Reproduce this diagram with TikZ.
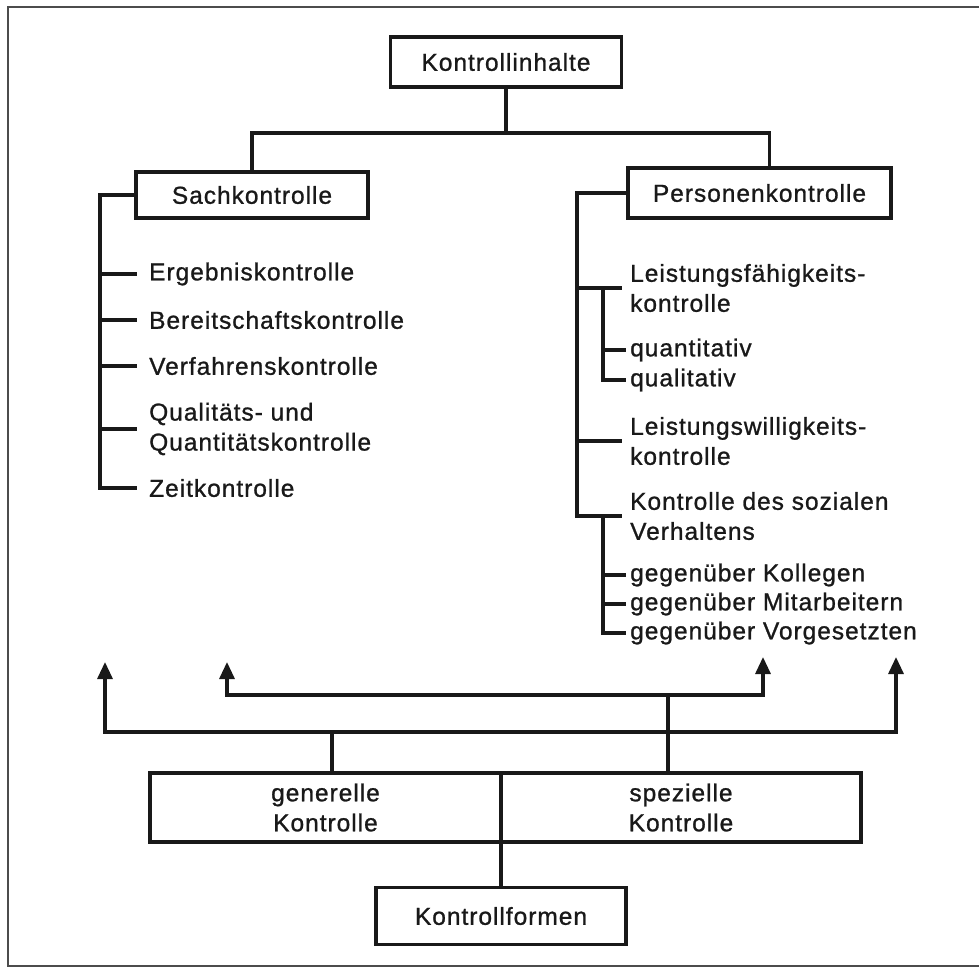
\documentclass[tikz,border=0pt]{standalone}
\usepackage{fontspec}
\setmainfont{Liberation Sans}[LetterSpace=4,FakeBold=1]
\usetikzlibrary{arrows.meta,positioning}

\tikzset{
  kasten/.style={draw, line width=3.4pt, inner sep=0pt, align=center},
  eintrag/.style={anchor=west, inner sep=0pt, align=left},
  linie/.style={line width=3.2pt},
  pfeil/.style={linie, {Triangle[length=17pt,width=15pt]}-{Triangle[length=17pt,width=15pt]}},
}

\begin{document}
\begin{tikzpicture}[x=1pt,y=-1pt,font=\fontsize{24.5}{30}\selectfont, black!90]
\useasboundingbox (0,0) rectangle (979,975);
% Rahmen
\draw[line width=2.4pt, black!70] (979,7) -- (8,7) -- (8,966) -- (979,966);

% Kontrollinhalte
\node[kasten, minimum width=231pt, minimum height=50pt] (inhalte) at (506,62) {Kontrollinhalte};
\node[kasten, minimum width=232pt, minimum height=46pt] (sach) at (252,195) {Sachkontrolle};
\node[kasten, minimum width=263pt, minimum height=50pt] (person) at (759.5,193) {Personenkontrolle};
\coordinate (knoten) at (506,133);
\draw[linie] (inhalte) -- (knoten);
\draw[linie] (sach.north) |- (knoten) -| ([xshift=10pt]person.north);

% Sachkontrolle
\node[eintrag] (ergebnis) at (149,274) {Ergebniskontrolle};
\node[eintrag] (bereitschaft) at (149,320) {Bereitschaftskontrolle};
\node[eintrag] (verfahren) at (149,366) {Verfahrenskontrolle};
\node[eintrag] (qualitaet) at (149,429) {Qualitäts- und\\Quantitätskontrolle};
\node[eintrag] (zeit) at (149,488) {Zeitkontrolle};
\coordinate (sachachse) at (100,195);
\draw[linie] (sach.west) -- (sachachse) |- ([xshift=-12pt]zeit.west);
\foreach \n in {ergebnis,bereitschaft,verfahren,qualitaet}
  \draw[linie] (sachachse |- \n.west) -- ([xshift=-12pt]\n.west);

% Personenkontrolle
\node[eintrag] (faehig) at (630,288) {Leistungsfähigkeits-\\kontrolle};
\node[eintrag] (quanti) at (630,350) {quantitativ};
\node[eintrag] (quali) at (630,380) {qualitativ};
\node[eintrag] (willig) at (630,441) {Leistungswilligkeits-\\kontrolle};
\node[eintrag] (sozial) at (630,516) {Kontrolle des sozialen\\Verhaltens};
\node[eintrag] (kollegen) at (630,575) {gegenüber Kollegen};
\node[eintrag] (mitarbeiter) at (630,604) {gegenüber Mitarbeitern};
\node[eintrag] (vorgesetzte) at (630,633) {gegenüber Vorgesetzten};
\coordinate (personachse) at (577,193);
\draw[linie] (person.west) -- (personachse) |- ([xshift=-8pt]sozial.west);
\foreach \n in {faehig,willig}
  \draw[linie] (personachse |- \n.west) -- ([xshift=-8pt]\n.west);
% Unterpunkte
\draw[linie] ([xshift=-27pt]faehig.west) |- ([xshift=-4pt]quali.west);
\draw[linie] ([xshift=-27pt]quanti.west) -- ([xshift=-4pt]quanti.west);
\draw[linie] ([xshift=-27pt]sozial.west) |- ([xshift=-4pt]vorgesetzte.west);
\foreach \n in {kollegen,mitarbeiter}
  \draw[linie] ([xshift=-27pt]\n.west) -- ([xshift=-4pt]\n.west);

% Kontrollformen
\node[kasten, minimum width=351pt, minimum height=69pt] (generell) at (325.5,807.5) {generelle\\Kontrolle};
\node[kasten, minimum width=360pt, minimum height=69pt, right=-3.4pt of generell] (speziell) {spezielle\\Kontrolle};
\node[kasten, minimum width=250pt, minimum height=57pt] (formen) at (501,916) {Kontrollformen};
\draw[linie] (formen.north) -- (formen.north |- generell.south);

% Pfeile
\coordinate (zielA) at (105,662);
\coordinate (zielB) at (227,662);
\coordinate (zielC) at (763,657);
\coordinate (zielD) at (896,657);
\coordinate (gabelA) at (332,732);
\coordinate (gabelB) at (668,695);
\draw[pfeil] (zielA) |- (gabelA) -| (zielD);
\draw[linie] (gabelA |- generell.north) -- (gabelA);
\draw[pfeil] (zielB) |- (gabelB) -| (zielC);
\draw[linie] (gabelB |- speziell.north) -- (gabelB);
\end{tikzpicture}
\end{document}
